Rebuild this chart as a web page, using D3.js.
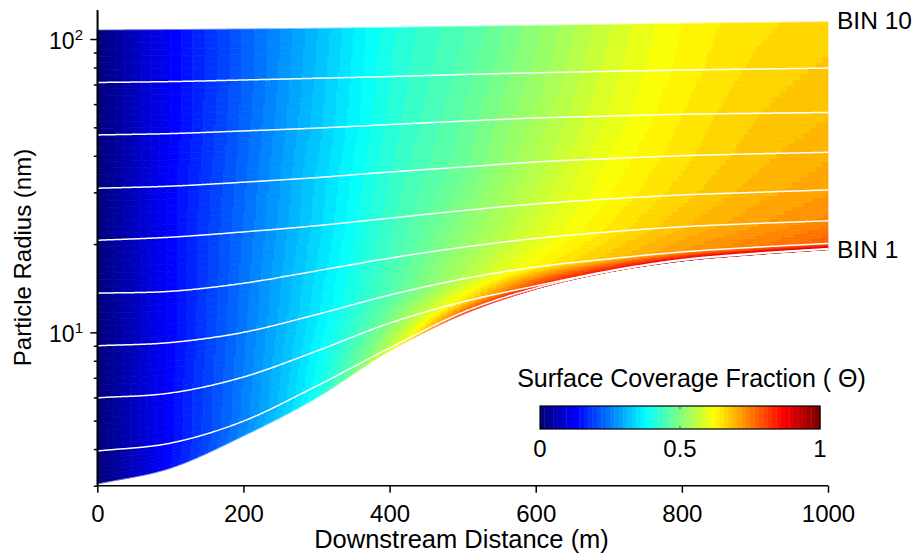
<!DOCTYPE html>
<html><head><meta charset="utf-8">
<script src="https://cdn.jsdelivr.net/npm/d3@7"></script>
<style>
body{margin:0;background:#fff}
text{font-family:"Liberation Sans",Arial,Helvetica,sans-serif;fill:#000}
</style>
</head><body>
<svg id="chart" width="917" height="554"></svg>
<script>
// Downstream distance samples (m)
const distances = [0,100,200,300,400,500,600,700,800,900,1000];
// Particle radius (nm) of each bin trajectory
const radiusBin10 = [107.3,107.7,108.2,108.8,109.6,110.5,111.3,112.2,113.1,113.8,114.5];
const radiusBin9  = [71.1,71.6,72.5,73.5,74.5,75.7,76.7,77.6,78.4,79.0,79.6];
const radiusBin8  = [47.1,47.6,48.6,49.7,51.1,52.5,53.8,54.6,55.4,55.8,56.2];
const radiusBin7  = [31.0,31.5,32.5,33.7,35.2,36.6,38.1,39.1,40.0,40.6,41.1];
const radiusBin6  = [20.6,21.1,22.0,23.1,24.5,26.0,27.4,28.5,29.4,30.0,30.6];
const radiusBin5  = [13.6,13.8,14.7,16.2,17.9,19.5,20.9,22.0,22.9,23.5,24.0];
const radiusBin4  = [9.00,9.23,10.0,11.5,13.4,15.2,16.7,17.8,18.8,19.5,20.1];
const radiusBin3  = [5.98,6.21,7.04,8.63,10.75,12.7,14.4,16.2,17.7,18.6,19.3];
const radiusBin2  = [3.94,4.19,4.98,6.56,8.84,11.7,14.15,16.1,17.6,18.5,19.22];
const radiusBin1  = [3.04,3.44,4.43,5.97,8.63,11.5,14.04,16.05,17.5,18.41,19.15];
// Surface coverage fraction along each bin trajectory
const thetaBin10 = [0,0.125,0.22,0.31,0.40,0.45,0.51,0.575,0.625,0.65,0.665];
const thetaBin9  = [0,0.125,0.22,0.315,0.405,0.46,0.52,0.585,0.63,0.66,0.675];
const thetaBin8  = [0,0.125,0.225,0.32,0.41,0.47,0.535,0.595,0.64,0.67,0.685];
const thetaBin7  = [0,0.13,0.23,0.33,0.42,0.48,0.55,0.61,0.65,0.68,0.70];
const thetaBin6  = [0,0.13,0.235,0.335,0.43,0.50,0.57,0.625,0.665,0.695,0.715];
const thetaBin5  = [0,0.13,0.24,0.345,0.44,0.52,0.59,0.645,0.685,0.715,0.74];
const thetaBin4  = [0,0.13,0.245,0.355,0.455,0.55,0.63,0.68,0.72,0.75,0.78];
const thetaBin3  = [0,0.135,0.25,0.37,0.50,0.65,0.82,0.88,0.91,0.93,0.94];
const thetaBin2  = [0,0.135,0.255,0.385,0.56,0.78,0.88,0.91,0.93,0.94,0.95];
const thetaBin1  = [0,0.14,0.265,0.40,0.63,0.84,0.92,0.94,0.95,0.96,0.96];

const xTicks = [0,200,400,600,800,1000];
const yMajorTicks = [10,100];
const yMajorExp = ["1","2"];
const yMinorTicks = [3,4,5,6,7,8,9,20,30,40,50,60,70,80,90];
const colorbarTicks = [0,0.5,1];
const labeledBins = ["BIN 10","BIN 1"];
const xTitle = "Downstream Distance (m)";
const yTitle = "Particle Radius (nm)";
const cbTitle = "Surface Coverage Fraction ( \u0398)";

const svg = d3.select("#chart");
const x = d3.scaleLinear().domain([0,1000]).range([97.3,828]);
const y = d3.scaleLog().domain([3,125.6]).range([485.7,10]);

function monotone(xs, ys){
  const n = xs.length, d = [], m = new Array(n);
  for (let i=0;i<n-1;i++) d.push((ys[i+1]-ys[i])/(xs[i+1]-xs[i]));
  m[0]=d[0]; m[n-1]=d[n-2];
  for (let i=1;i<n-1;i++) m[i] = d[i-1]*d[i] <= 0 ? 0 : (d[i-1]+d[i])/2;
  for (let i=0;i<n-1;i++){
    if (d[i]===0){ m[i]=0; m[i+1]=0; continue; }
    const a=m[i]/d[i], b=m[i+1]/d[i], s=a*a+b*b;
    if (s>9){ const t=3/Math.sqrt(s); m[i]=t*a*d[i]; m[i+1]=t*b*d[i]; }
  }
  return xv => {
    const i = Math.min(n-2, Math.max(0, d3.bisectRight(xs, xv)-1));
    const h = xs[i+1]-xs[i], t=(xv-xs[i])/h, t2=t*t, t3=t2*t;
    return (2*t3-3*t2+1)*ys[i] + (t3-2*t2+t)*h*m[i] + (-2*t3+3*t2)*ys[i+1] + (t3-t2)*h*m[i+1];
  };
}

const radii = [radiusBin10,radiusBin9,radiusBin8,radiusBin7,radiusBin6,radiusBin5,radiusBin4,radiusBin3,radiusBin2,radiusBin1];
const thetas = [thetaBin10,thetaBin9,thetaBin8,thetaBin7,thetaBin6,thetaBin5,thetaBin4,thetaBin3,thetaBin2,thetaBin1];
const lines = radii.map((r,i)=>({
  lr: monotone(distances, r.map(v=>Math.log10(v))),
  th: monotone(distances, thetas[i])
}));

const clamp = v => Math.max(0, Math.min(1, v));
function jet(v){
  return d3.rgb(255*clamp(1.5-Math.abs(4*v-3)), 255*clamp(1.5-Math.abs(4*v-2)), 255*clamp(1.5-Math.abs(4*v-1))).toString();
}
const NL = 64;
const levelOf = th => Math.max(0, Math.min(NL-1, Math.floor(th*NL)));
const levelColor = k => jet(k/(NL-1));

// ---- filled field ----
const field = svg.append("g");
const step = 2.5, nSub = 8;
const cols = d3.range(0, 1000+1e-9, step);
for (let s=0; s<lines.length-1; s++){
  const U = lines[s], L = lines[s+1];
  const lu = cols.map(c=>U.lr(c)), ll = cols.map(c=>L.lr(c));
  for (let k=0;k<nSub;k++){
    const a=k/nSub, b=(k+1)/nSub, mid=(a+b)/2;
    let runStart = 0;
    const lvl = [];
    for (let c=0;c<cols.length-1;c++){
      const xm = (cols[c]+cols[c+1])/2;
      const tU = U.th(xm), tL = L.th(xm);
      lvl.push(levelOf(tL + (tU-tL)*mid));
    }
    const emit = (i0,i1,lv)=>{
      const pts = [];
      for (let c=i0;c<=i1;c++) pts.push([x(cols[c]), y(Math.pow(10, ll[c]+(lu[c]-ll[c])*a))]);
      for (let c=i1;c>=i0;c--) pts.push([x(cols[c]), y(Math.pow(10, ll[c]+(lu[c]-ll[c])*b))]);
      const col = levelColor(lv);
      field.append("path").attr("d","M"+pts.map(p=>p[0].toFixed(2)+","+p[1].toFixed(2)).join("L")+"Z")
        .attr("fill",col).attr("stroke",col).attr("stroke-width",0.7).attr("stroke-linejoin","round");
    };
    for (let c=1;c<=lvl.length;c++){
      if (c===lvl.length || lvl[c]!==lvl[runStart]){ emit(runStart, c, lvl[runStart]); runStart=c; }
    }
  }
}

// ---- white bin trajectories ----
const lineGen = d3.line().x(d=>x(d[0])).y(d=>y(d[1]));
const fine = d3.range(0, 1000+1e-9, 2);
lines.forEach((ln,i)=>{
  if (i===0 || i===lines.length-1) return;
  svg.append("path").attr("d", lineGen(fine.map(v=>[v, Math.pow(10, ln.lr(v))])))
    .attr("fill","none").attr("stroke","#fff").attr("stroke-width",1.5);
});
[0, lines.length-1].forEach(i=>{
  svg.append("path").attr("d", lineGen(fine.map(v=>[v, Math.pow(10, lines[i].lr(v))])))
    .attr("fill","none").attr("stroke","#fff").attr("stroke-width",0.6).attr("opacity",0.6);
});

// ---- axes ----
const axStyle = g=>{ g.selectAll("path,line").attr("stroke","#000").attr("stroke-width",1.5); };
const gx = svg.append("g").attr("transform","translate(0,485.7)")
  .call(d3.axisBottom(x).tickValues(xTicks).tickSize(7).tickSizeOuter(0).tickFormat(d3.format("d")))
  .call(axStyle);
gx.selectAll("text").attr("y",36.5).attr("dy",0).attr("font-size",24).attr("font-family",null).style("fill","#000");
gx.select(".domain").attr("d",`M${x(0)},0H${x(1000)}`);

svg.append("g").attr("transform","translate(97.3,0)")
  .call(d3.axisLeft(y).tickValues(yMinorTicks).tickSize(3.5).tickSizeOuter(0).tickFormat(""))
  .call(axStyle);
const gy = svg.append("g").attr("transform","translate(97.3,0)")
  .call(d3.axisLeft(y).tickValues(yMajorTicks).tickSize(7).tickSizeOuter(0).tickFormat(""))
  .call(axStyle);
gy.select(".domain").attr("d","M0,485.7V10");
yMajorTicks.forEach((v,i)=>{
  const t = svg.append("text").attr("x",83).attr("y",y(v)+9.5).attr("text-anchor","end").attr("font-size",23);
  t.append("tspan").text("10");
  t.append("tspan").attr("dy",-9).attr("font-size",15).text(yMajorExp[i]);
});

// titles
svg.append("text").attr("x",461.5).attr("y",548).attr("text-anchor","middle").attr("font-size",25.5).text(xTitle);
svg.append("text").attr("transform","translate(31,257.5) rotate(-90)").attr("text-anchor","middle").attr("font-size",24).text(yTitle);

// bin labels
svg.append("text").attr("x",837).attr("y",y(Math.pow(10,lines[0].lr(1000)))+7.5).attr("font-size",24.5).text(labeledBins[0]);
svg.append("text").attr("x",837).attr("y",y(Math.pow(10,lines[lines.length-1].lr(1000)))+8).attr("font-size",24.5).text(labeledBins[1]);

// ---- colorbar ----
const cb = d3.scaleLinear().domain([0,1]).range([540,820]);
const cbg = svg.append("g");
d3.range(NL).forEach(k=>{
  cbg.append("rect").attr("x",cb(k/NL)).attr("y",406).attr("width",cb((k+1)/NL)-cb(k/NL)+0.4).attr("height",23)
    .attr("fill",levelColor(k));
});
cbg.append("rect").attr("x",540).attr("y",406).attr("width",280).attr("height",23)
  .attr("fill","none").attr("stroke","#000").attr("stroke-width",1.2);
cbg.append("line").attr("x1",cb(0.5)).attr("x2",cb(0.5)).attr("y1",406).attr("y2",409).attr("stroke","#555");
cbg.append("line").attr("x1",cb(0.5)).attr("x2",cb(0.5)).attr("y1",426).attr("y2",429).attr("stroke","#555");
colorbarTicks.forEach(v=>{
  cbg.append("text").attr("x",cb(v)).attr("y",457).attr("text-anchor","middle").attr("font-size",24).text(String(v));
});
svg.append("text").attr("x",691.5).attr("y",387).attr("text-anchor","middle").attr("font-size",25).text(cbTitle);
</script>
</body></html>
